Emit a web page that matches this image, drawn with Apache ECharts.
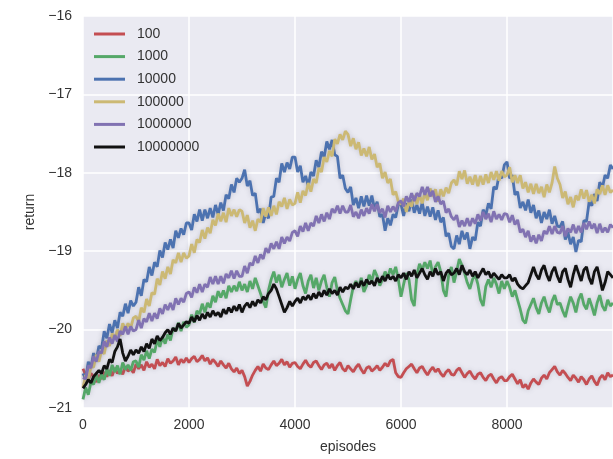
<!DOCTYPE html>
<html>
<head>
<meta charset="utf-8">
<script src="https://cdn.jsdelivr.net/npm/echarts@6/dist/echarts.min.js"></script>
<style>
html,body{margin:0;padding:0;background:#fff;}
#chart{width:613px;height:459px;}
</style>
</head>
<body>
<div id="chart"></div>
<script>
// episodes: 0, 50, ..., 10000
const episodes = [];
for (let e = 0; e <= 10000; e += 50) episodes.push(e);

const seriesNames = ['100', '1000', '10000', '100000', '1000000', '10000000'];
const xTicks = [0, 2000, 4000, 6000, 8000];
const yTicks = [-21, -20, -19, -18, -17, -16];

const r100 = [
-20.50,-20.58,-20.64,-20.56,-20.60,-20.67,-20.58,-20.63,-20.54,-20.60,-20.52,-20.59,-20.49,-20.56,-20.51,-20.57,-20.47,-20.53,-20.50,-20.55,
-20.44,-20.50,-20.45,-20.52,-20.41,-20.48,-20.44,-20.50,-20.38,-20.46,-20.42,-20.47,-20.37,-20.43,-20.40,-20.35,-20.45,-20.38,-20.42,-20.36,
-20.42,-20.37,-20.34,-20.41,-20.38,-20.33,-20.40,-20.36,-20.44,-20.38,-20.42,-20.47,-20.40,-20.45,-20.49,-20.43,-20.50,-20.54,-20.49,-20.56,
-20.52,-20.60,-20.72,-20.66,-20.58,-20.52,-20.47,-20.53,-20.44,-20.49,-20.51,-20.45,-20.40,-20.46,-20.43,-20.38,-20.45,-20.41,-20.48,-20.43,
-20.42,-20.47,-20.50,-20.44,-20.39,-20.45,-20.48,-20.42,-20.40,-20.46,-20.51,-20.45,-20.43,-20.49,-20.44,-20.52,-20.46,-20.42,-20.50,-20.53,
-20.46,-20.50,-20.54,-20.48,-20.44,-20.51,-20.56,-20.49,-20.47,-20.53,-20.50,-20.46,-20.52,-20.48,-20.43,-20.47,-20.40,-20.38,-20.55,-20.60,
-20.61,-20.55,-20.50,-20.47,-20.44,-20.50,-20.55,-20.49,-20.47,-20.53,-20.58,-20.52,-20.48,-20.54,-20.50,-20.56,-20.60,-20.54,-20.51,-20.57,
-20.58,-20.52,-20.49,-20.55,-20.61,-20.56,-20.53,-20.59,-20.63,-20.57,-20.55,-20.61,-20.65,-20.59,-20.57,-20.63,-20.68,-20.62,-20.60,-20.65,
-20.65,-20.60,-20.57,-20.63,-20.69,-20.64,-20.74,-20.70,-20.76,-20.68,-20.63,-20.67,-20.70,-20.62,-20.58,-20.63,-20.55,-20.51,-20.47,-20.54,
-20.58,-20.52,-20.56,-20.61,-20.65,-20.58,-20.62,-20.67,-20.60,-20.64,-20.70,-20.63,-20.59,-20.66,-20.71,-20.62,-20.58,-20.64,-20.55,-20.60,
-20.58];

const r1000 = [
-20.89,-20.74,-20.83,-20.67,-20.70,-20.57,-20.68,-20.57,-20.64,-20.50,-20.59,-20.45,-20.54,-20.46,-20.57,-20.42,-20.51,-20.45,-20.52,-20.41,
-20.40,-20.48,-20.32,-20.39,-20.27,-20.37,-20.25,-20.29,-20.13,-20.22,-20.09,-20.18,-20.06,-20.14,-19.98,-20.02,-19.91,-20.02,-19.90,-19.97,
-19.94,-19.81,-19.91,-19.76,-19.80,-19.67,-19.78,-19.66,-19.72,-19.57,-19.65,-19.51,-19.59,-19.50,-19.60,-19.44,-19.52,-19.44,-19.51,-19.39,
-19.50,-19.42,-19.52,-19.38,-19.48,-19.34,-19.44,-19.54,-19.64,-19.72,-19.50,-19.36,-19.26,-19.40,-19.30,-19.46,-19.36,-19.28,-19.44,-19.32,
-19.48,-19.36,-19.28,-19.44,-19.54,-19.38,-19.30,-19.47,-19.34,-19.50,-19.38,-19.30,-19.46,-19.58,-19.40,-19.33,-19.50,-19.60,-19.68,-19.76,
-19.80,-19.62,-19.45,-19.38,-19.46,-19.34,-19.52,-19.44,-19.30,-19.38,-19.24,-19.32,-19.44,-19.36,-19.26,-19.34,-19.22,-19.30,-19.20,-19.36,
-19.58,-19.42,-19.28,-19.36,-19.62,-19.70,-19.30,-19.16,-19.24,-19.14,-19.22,-19.12,-19.30,-19.20,-19.14,-19.26,-19.50,-19.58,-19.30,-19.20,
-19.40,-19.26,-19.10,-19.18,-19.28,-19.40,-19.48,-19.36,-19.30,-19.42,-19.62,-19.70,-19.45,-19.36,-19.46,-19.34,-19.42,-19.54,-19.38,-19.48,
-19.38,-19.46,-19.58,-19.50,-19.62,-19.74,-19.88,-19.92,-19.76,-19.68,-19.60,-19.72,-19.80,-19.66,-19.58,-19.70,-19.78,-19.64,-19.56,-19.68,
-19.66,-19.76,-19.84,-19.70,-19.58,-19.66,-19.78,-19.62,-19.54,-19.68,-19.74,-19.60,-19.70,-19.82,-19.66,-19.56,-19.70,-19.76,-19.62,-19.70,
-19.66];

const r10000 = [
-20.56,-20.63,-20.41,-20.48,-20.30,-20.39,-20.21,-20.24,-20.02,-20.11,-19.93,-20.04,-19.88,-19.98,-19.78,-19.83,-19.67,-19.79,-19.63,-19.70,
-19.65,-19.46,-19.57,-19.36,-19.39,-19.20,-19.31,-19.14,-19.20,-18.99,-19.08,-18.89,-18.98,-18.85,-18.96,-18.74,-18.83,-18.71,-18.79,-18.64,
-18.64,-18.73,-18.53,-18.62,-18.47,-18.61,-18.47,-18.58,-18.45,-18.57,-18.41,-18.53,-18.38,-18.48,-18.28,-18.33,-18.15,-18.25,-18.07,-18.12,
-18.07,-17.96,-18.17,-18.10,-18.29,-18.26,-18.51,-18.46,-18.64,-18.51,-18.58,-18.31,-18.30,-18.07,-18.12,-17.88,-17.99,-17.87,-17.95,-17.80,
-17.80,-17.99,-17.91,-18.12,-18.04,-18.17,-17.99,-18.04,-17.84,-17.93,-17.73,-17.80,-17.60,-17.70,-17.58,-17.77,-17.79,-18.07,-18.03,-18.20,
-18.25,-18.18,-18.41,-18.32,-18.45,-18.30,-18.43,-18.29,-18.42,-18.29,-18.46,-18.37,-18.56,-18.53,-18.74,-18.58,-18.67,-18.53,-18.57,-18.40,
-18.40,-18.55,-18.39,-18.49,-18.34,-18.51,-18.41,-18.52,-18.38,-18.55,-18.43,-18.56,-18.44,-18.60,-18.48,-18.63,-18.57,-18.81,-18.77,-18.94,
-18.97,-18.80,-18.91,-18.74,-18.85,-18.76,-18.97,-18.82,-18.86,-18.63,-18.68,-18.47,-18.54,-18.39,-18.46,-18.18,-18.21,-18.03,-18.07,-17.90,
-17.86,-18.07,-18.03,-18.28,-18.24,-18.45,-18.37,-18.48,-18.34,-18.51,-18.41,-18.58,-18.48,-18.64,-18.50,-18.59,-18.47,-18.65,-18.55,-18.68,
-18.69,-18.62,-18.85,-18.76,-18.91,-18.82,-19.01,-18.86,-18.88,-18.61,-18.62,-18.37,-18.42,-18.27,-18.36,-18.12,-18.19,-18.03,-18.07,-17.90,
-17.95];

const r100000 = [
-20.74,-20.58,-20.65,-20.47,-20.48,-20.32,-20.41,-20.27,-20.31,-20.14,-20.21,-20.05,-20.11,-20.00,-20.08,-19.92,-20.00,-19.92,-19.98,-19.85,
-19.83,-19.90,-19.72,-19.78,-19.61,-19.70,-19.53,-19.55,-19.35,-19.43,-19.26,-19.35,-19.20,-19.29,-19.11,-19.15,-19.02,-19.14,-19.02,-19.09,
-19.06,-18.91,-19.02,-18.85,-18.89,-18.73,-18.84,-18.70,-18.77,-18.60,-18.67,-18.52,-18.62,-18.51,-18.63,-18.45,-18.55,-18.47,-18.56,-18.47,
-18.49,-18.64,-18.54,-18.70,-18.61,-18.74,-18.59,-18.63,-18.45,-18.56,-18.44,-18.55,-18.42,-18.53,-18.37,-18.43,-18.32,-18.46,-18.34,-18.41,
-18.39,-18.25,-18.38,-18.23,-18.29,-18.13,-18.24,-18.08,-18.13,-17.94,-17.99,-17.80,-17.86,-17.72,-17.79,-17.57,-17.63,-17.51,-17.58,-17.47,
-17.51,-17.66,-17.56,-17.70,-17.61,-17.78,-17.69,-17.79,-17.67,-17.83,-17.76,-17.93,-17.88,-18.07,-17.99,-18.13,-18.08,-18.28,-18.24,-18.37,
-18.40,-18.33,-18.50,-18.37,-18.43,-18.29,-18.40,-18.28,-18.39,-18.26,-18.35,-18.20,-18.30,-18.21,-18.37,-18.21,-18.30,-18.19,-18.26,-18.13,
-18.09,-18.16,-17.98,-18.08,-17.97,-18.14,-18.05,-18.15,-18.03,-18.17,-18.04,-18.15,-18.02,-18.13,-17.99,-18.09,-17.98,-18.10,-17.98,-18.05,
-18.03,-17.93,-18.12,-18.03,-18.13,-18.03,-18.20,-18.12,-18.25,-18.14,-18.27,-18.14,-18.26,-18.18,-18.31,-18.15,-18.25,-18.13,-17.92,-18.07,
-18.15,-18.32,-18.24,-18.40,-18.31,-18.44,-18.29,-18.35,-18.21,-18.33,-18.22,-18.37,-18.28,-18.39,-18.21,-18.27,-18.16,-18.28,-18.16,-18.25,
-18.22];

const r1000000 = [
-20.61,-20.63,-20.46,-20.49,-20.34,-20.41,-20.28,-20.30,-20.15,-20.22,-20.10,-20.18,-20.07,-20.15,-20.02,-20.06,-19.96,-20.06,-19.96,-20.02,
-20.00,-19.88,-19.98,-19.86,-19.90,-19.79,-19.89,-19.79,-19.86,-19.73,-19.80,-19.68,-19.75,-19.66,-19.75,-19.60,-19.68,-19.60,-19.65,-19.54,
-19.52,-19.59,-19.46,-19.53,-19.42,-19.52,-19.42,-19.46,-19.33,-19.42,-19.32,-19.42,-19.32,-19.41,-19.29,-19.34,-19.25,-19.35,-19.25,-19.32,
-19.32,-19.19,-19.28,-19.15,-19.18,-19.06,-19.15,-19.04,-19.10,-18.96,-19.02,-18.90,-18.97,-18.88,-18.97,-18.82,-18.90,-18.82,-18.87,-18.76,
-18.74,-18.81,-18.68,-18.75,-18.64,-18.74,-18.64,-18.68,-18.55,-18.64,-18.53,-18.62,-18.51,-18.59,-18.46,-18.51,-18.42,-18.52,-18.42,-18.50,
-18.50,-18.41,-18.56,-18.50,-18.58,-18.47,-18.55,-18.45,-18.52,-18.40,-18.49,-18.40,-18.51,-18.46,-18.57,-18.42,-18.50,-18.43,-18.49,-18.38,
-18.36,-18.43,-18.30,-18.37,-18.26,-18.36,-18.26,-18.30,-18.18,-18.28,-18.18,-18.30,-18.23,-18.37,-18.30,-18.40,-18.36,-18.51,-18.46,-18.56,
-18.60,-18.54,-18.69,-18.61,-18.68,-18.58,-18.68,-18.58,-18.65,-18.53,-18.61,-18.50,-18.59,-18.52,-18.63,-18.49,-18.59,-18.53,-18.60,-18.52,
-18.53,-18.63,-18.54,-18.66,-18.60,-18.76,-18.72,-18.82,-18.74,-18.88,-18.80,-18.90,-18.79,-18.87,-18.74,-18.78,-18.68,-18.78,-18.68,-18.76,
-18.77,-18.68,-18.81,-18.71,-18.76,-18.66,-18.77,-18.68,-18.76,-18.64,-18.72,-18.62,-18.71,-18.65,-18.77,-18.65,-18.76,-18.70,-18.76,-18.66,
-18.70];

const r10000000 = [
-20.75,-20.70,-20.64,-20.68,-20.60,-20.56,-20.52,-20.56,-20.46,-20.50,-20.38,-20.42,-20.28,-20.22,-20.12,-20.30,-20.40,-20.34,-20.26,-20.32,
-20.26,-20.30,-20.22,-20.28,-20.18,-20.24,-20.12,-20.18,-20.08,-20.14,-20.10,-20.04,-20.00,-20.06,-19.98,-20.02,-19.92,-19.98,-19.94,-19.90,
-19.92,-19.84,-19.90,-19.82,-19.88,-19.80,-19.86,-19.78,-19.84,-19.76,-19.82,-19.78,-19.84,-19.74,-19.80,-19.72,-19.78,-19.70,-19.76,-19.68,
-19.78,-19.70,-19.66,-19.72,-19.64,-19.70,-19.62,-19.66,-19.58,-19.62,-19.54,-19.50,-19.42,-19.48,-19.58,-19.68,-19.78,-19.72,-19.64,-19.70,
-19.64,-19.60,-19.66,-19.58,-19.62,-19.56,-19.62,-19.54,-19.60,-19.52,-19.58,-19.50,-19.56,-19.48,-19.54,-19.50,-19.56,-19.46,-19.52,-19.46,
-19.48,-19.42,-19.48,-19.40,-19.46,-19.38,-19.44,-19.36,-19.42,-19.38,-19.44,-19.34,-19.40,-19.32,-19.38,-19.30,-19.36,-19.32,-19.38,-19.30,
-19.34,-19.28,-19.36,-19.26,-19.32,-19.24,-19.34,-19.28,-19.22,-19.30,-19.36,-19.26,-19.32,-19.22,-19.30,-19.26,-19.38,-19.28,-19.24,-19.30,
-19.28,-19.22,-19.30,-19.18,-19.26,-19.30,-19.24,-19.32,-19.26,-19.34,-19.28,-19.22,-19.30,-19.26,-19.34,-19.28,-19.32,-19.36,-19.30,-19.34,
-19.34,-19.30,-19.38,-19.34,-19.42,-19.46,-19.48,-19.44,-19.40,-19.30,-19.20,-19.30,-19.36,-19.24,-19.18,-19.30,-19.38,-19.26,-19.20,-19.32,
-19.40,-19.26,-19.22,-19.36,-19.46,-19.30,-19.18,-19.28,-19.38,-19.24,-19.20,-19.34,-19.42,-19.26,-19.20,-19.34,-19.50,-19.40,-19.26,-19.30,
-19.34];

const seriesValues = [r100, r1000, r10000, r100000, r1000000, r10000000];
const colors = ['#C44E52', '#55A868', '#4C72B0', '#CCB974', '#8172B2', '#111111'];

const chart = echarts.init(document.getElementById('chart'), null, {renderer: 'canvas'});
const font = 'Liberation Sans, Arial, sans-serif';

const series = seriesNames.map((name, i) => ({
  name: name,
  type: 'line',
  data: seriesValues[i].map((v, k) => [episodes[k], v]),
  showSymbol: false,
  symbol: 'none',
  animation: false,
  lineStyle: { width: 2.8, color: colors[i], shadowColor: 'rgba(110,110,130,0.3)', shadowBlur: 5 },
  itemStyle: { color: colors[i] },
  z: 2 + i
}));

chart.setOption({
  animation: false,
  backgroundColor: '#ffffff',
  textStyle: { fontFamily: font },
  grid: {
    left: 83, top: 16, right: -5, bottom: 46,
    show: true, backgroundColor: '#EAEAF2', borderWidth: 0,
    containLabel: false
  },
  legend: {
    orient: 'vertical',
    left: 94, top: 27,
    padding: 0,
    itemWidth: 31, itemHeight: 3, itemGap: 8.6,
    icon: 'path://M0,0H31V3H0Z',
    textStyle: { fontSize: 14, color: '#333', fontFamily: font, lineHeight: 14, padding: [0, 0, 0, 7] },
    data: seriesNames
  },
  xAxis: {
    type: 'value', min: 0, max: 10000, interval: 2000,
    name: 'episodes', nameLocation: 'middle', nameGap: 32,
    nameTextStyle: { fontSize: 14, color: '#333', fontFamily: font },
    axisLine: { show: false }, axisTick: { show: false },
    axisLabel: { fontSize: 14, color: '#333', margin: 10, showMaxLabel: false, fontFamily: font,
      formatter: v => xTicks.indexOf(v) >= 0 ? String(v) : '' },
    splitLine: { show: true, lineStyle: { color: '#ffffff', width: 1.5 } }
  },
  yAxis: {
    type: 'value', min: -21, max: -16, interval: 1,
    name: 'return', nameLocation: 'middle', nameGap: 41,
    nameTextStyle: { fontSize: 14, color: '#333', fontFamily: font },
    axisLine: { show: false }, axisTick: { show: false },
    axisLabel: { fontSize: 14, color: '#333', margin: 11, fontFamily: font,
      formatter: v => yTicks.indexOf(v) >= 0 ? String(v).replace('-', '\u2212') : '' },
    splitLine: { show: true, lineStyle: { color: '#ffffff', width: 1.5 } }
  },
  series: series
});
</script>
</body>
</html>
